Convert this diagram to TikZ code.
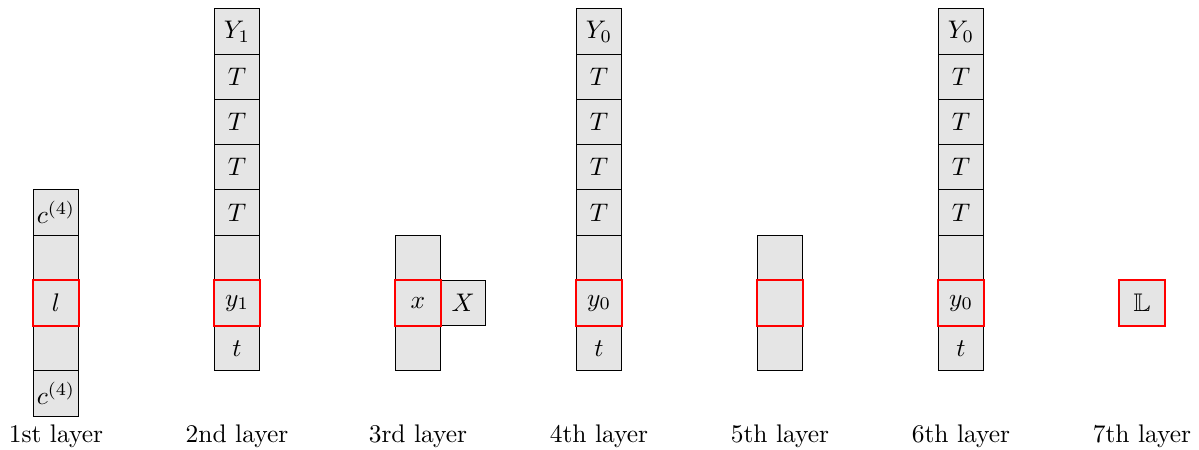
\documentclass[tikz,border=0pt]{standalone}
\usepackage{amsmath,amssymb}
\usepackage{tikz}
\usetikzlibrary{positioning}

\begin{document}
\begin{tikzpicture}[
  node distance=0pt,
  cell/.style={draw,fill=black!10,minimum size=6.25mm,inner sep=0pt,outer sep=0pt},
  hot/.style={cell,draw=red,thick},
  lay/.style={anchor=base},
]
\useasboundingbox (0,0) rectangle (16.56,6.215);
% 1st layer
\node[cell] (a1) at (0.773,2.655) {};
\node[cell,above=of a1] (a2) {$c^{(4)}$};
\node[cell] (am1) at (0.773,1.405) {};
\node[cell,below=of am1] (am2) {$c^{(4)}$};
\node[hot] (a0) at (0.773,2.03) {$l$};
% 2nd layer
\node[cell] (b1) at (3.273,2.655) {};
\node[cell,above=of b1] (b2) {$T$};
\node[cell,above=of b2] (b3) {$T$};
\node[cell,above=of b3] (b4) {$T$};
\node[cell,above=of b4] (b5) {$T$};
\node[cell,above=of b5] (b6) {$Y_1$};
\node[cell] (bm1) at (3.273,1.405) {$t$};
\node[hot] (b0) at (3.273,2.03) {$y_1$};
% 3rd layer
\node[cell] (c1) at (5.773,2.655) {};
\node[cell] (cm1) at (5.773,1.405) {};
\node[cell] (cx) at (6.398,2.03) {$X$};
\node[hot] (c0) at (5.773,2.03) {$x$};
% 4th layer
\node[cell] (d1) at (8.273,2.655) {};
\node[cell,above=of d1] (d2) {$T$};
\node[cell,above=of d2] (d3) {$T$};
\node[cell,above=of d3] (d4) {$T$};
\node[cell,above=of d4] (d5) {$T$};
\node[cell,above=of d5] (d6) {$Y_0$};
\node[cell] (dm1) at (8.273,1.405) {$t$};
\node[hot] (d0) at (8.273,2.03) {$y_0$};
% 5th layer
\node[cell] (e1) at (10.773,2.655) {};
\node[cell] (em1) at (10.773,1.405) {};
\node[hot] (e0) at (10.773,2.03) {};
% 6th layer
\node[cell] (f1) at (13.273,2.655) {};
\node[cell,above=of f1] (f2) {$T$};
\node[cell,above=of f2] (f3) {$T$};
\node[cell,above=of f3] (f4) {$T$};
\node[cell,above=of f4] (f5) {$T$};
\node[cell,above=of f5] (f6) {$Y_0$};
\node[cell] (fm1) at (13.273,1.405) {$t$};
\node[hot] (f0) at (13.273,2.03) {$y_0$};
% 7th layer
\node[hot] (g0) at (15.773,2.03) {$\mathbb{L}$};
% layer names
\node[lay] (n1) at (0.773,0.1) {1st layer};
\node[lay] (n2) at (3.273,0.1) {2nd layer};
\node[lay] (n3) at (5.773,0.1) {3rd layer};
\node[lay] (n4) at (8.273,0.1) {4th layer};
\node[lay] (n5) at (10.773,0.1) {5th layer};
\node[lay] (n6) at (13.273,0.1) {6th layer};
\node[lay] (n7) at (15.773,0.1) {7th layer};
\end{tikzpicture}
\end{document}
